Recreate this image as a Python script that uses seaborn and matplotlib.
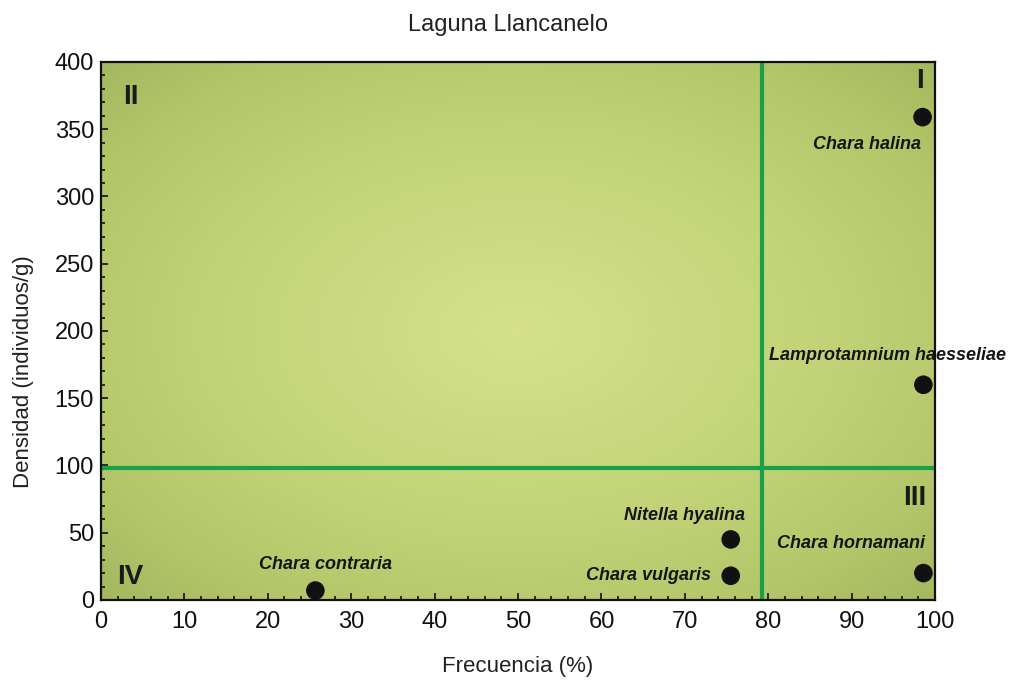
import numpy as np
import pandas as pd
import matplotlib
matplotlib.use("Agg")
import matplotlib.pyplot as plt
from matplotlib.colors import LinearSegmentedColormap
from matplotlib.ticker import MultipleLocator
import seaborn as sns

# Species, frequency (%) and density (individuals/g)
species = ["Chara halina", "Lamprotamnium haesseliae", "Chara hornamani",
           "Nitella hyalina", "Chara vulgaris", "Chara contraria"]
frecuencia = [98.5, 98.6, 98.6, 75.5, 75.5, 25.7]
densidad = [359, 160, 20, 45, 18, 7]

# Quadrant thresholds
umbral_frec = 79.2
umbral_dens = 98

quadrant_names = ["I", "II", "III", "IV"]

df = pd.DataFrame({"especie": species, "frecuencia": frecuencia, "densidad": densidad})

sns.set_theme(style="white")
plt.rcParams["font.family"] = ["Liberation Sans", "DejaVu Sans"]

fig = plt.figure(figsize=(10.11, 6.81), dpi=100)
ax = fig.add_axes([0.0999, 0.119, 0.825, 0.790])

# radial green background
ny, nx = 300, 500
gx = np.linspace(-1, 1, nx)
gy = np.linspace(-1, 1, ny)
X, Y = np.meshgrid(gx, gy)
R = np.sqrt(X ** 2 + Y ** 2) / np.sqrt(2)
cmap = LinearSegmentedColormap.from_list(
    "bg", [(0.0, "#d5e28b"), (0.55, "#c1d276"), (0.8, "#b4c66a"), (1.0, "#a4b85e")])
ax.imshow(R, cmap=cmap, vmin=0, vmax=1, extent=[0, 100, 0, 400],
          aspect="auto", origin="lower", zorder=0, interpolation="bilinear")

ax.axvline(umbral_frec, color="#18a04a", lw=3, zorder=2)
ax.axhline(umbral_dens, color="#18a04a", lw=3, zorder=2)

sns.scatterplot(data=df, x="frecuencia", y="densidad", ax=ax, s=180,
                color="#111111", edgecolor="none", zorder=4, clip_on=False,
                legend=False)

# label offsets (points) and alignment per species
offsets = {
    "Chara halina": ((-1, -20), "right"),
    "Lamprotamnium haesseliae": ((-26, 21), "center"),
    "Chara hornamani": ((-52, 21), "center"),
    "Nitella hyalina": ((-33, 17), "center"),
    "Chara vulgaris": ((-14, 0), "right"),
    "Chara contraria": ((7, 19), "center"),
}
for name, fx, dy in zip(species, frecuencia, densidad):
    off, ha = offsets[name]
    ax.annotate(name, (fx, dy), xytext=off, textcoords="offset points",
                ha=ha, va="center", fontsize=13, fontweight="bold",
                fontstyle="italic", color="#151515", zorder=5,
                annotation_clip=False)

quad_pos = [(98.6, 386, "right"), (2.6, 374, "left"), (99.0, 76, "right"), (1.9, 17, "left")]
for name, (qx, qy, ha) in zip(quadrant_names, quad_pos):
    ax.text(qx, qy, name, ha=ha, va="center", fontsize=20, fontweight="bold",
            color="#1a1a1a", zorder=5)

ax.set_xlim(0, 100)
ax.set_ylim(0, 400)
ax.xaxis.set_major_locator(MultipleLocator(10))
ax.xaxis.set_minor_locator(MultipleLocator(2))
ax.yaxis.set_major_locator(MultipleLocator(50))
ax.yaxis.set_minor_locator(MultipleLocator(10))
ax.tick_params(axis="both", which="both", direction="in", bottom=True, left=True,
               top=False, right=False, colors="#111111", labelsize=17, width=1.2)
ax.tick_params(which="major", length=5, pad=5)
ax.tick_params(axis="x", which="major", pad=8)
ax.tick_params(which="minor", length=3)
for sp in ax.spines.values():
    sp.set_color("#111111")
    sp.set_linewidth(1.6)
    sp.set_zorder(6)

ax.set_xlabel("Frecuencia (%)", fontsize=16, color="#222222")
ax.set_ylabel("Densidad (individuos/g)", fontsize=16, color="#222222")
ax.xaxis.set_label_coords(0.5, -0.104)
ax.yaxis.set_label_coords(-0.080, 0.424)
ax.set_title("Laguna Llancanelo", fontsize=17, color="#222222", pad=22, x=0.488)

fig.savefig("out.png", dpi=100, facecolor="white")
